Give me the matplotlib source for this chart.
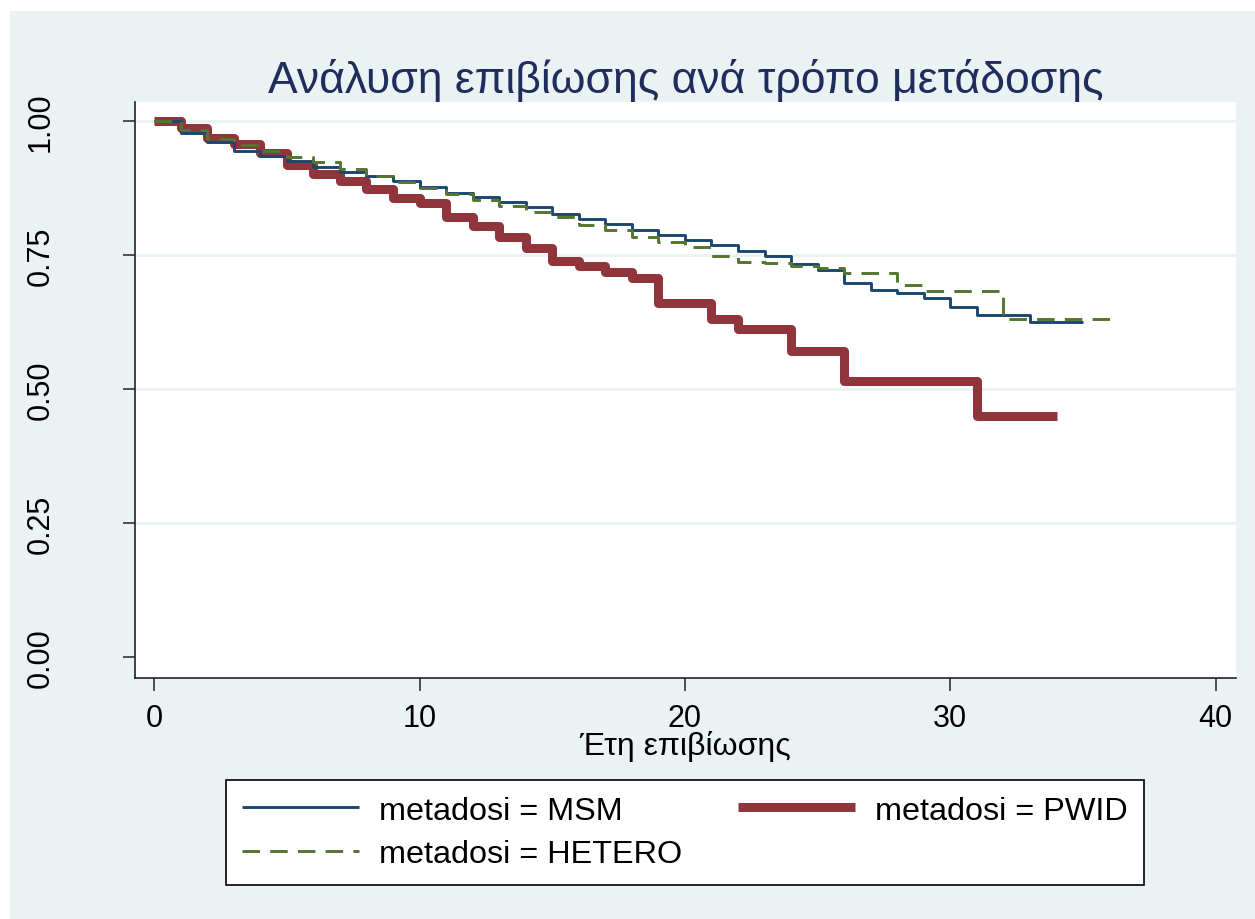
import matplotlib
matplotlib.use("Agg")
import matplotlib.pyplot as plt
from matplotlib.patches import Rectangle

plt.rcParams['font.family'] = ['Liberation Sans', 'DejaVu Sans']

# Kaplan-Meier step values (years, survival)
msm_t = [0, 1, 2, 3, 4, 5, 6, 7, 8, 9, 10, 11, 12, 13, 14, 15, 16, 17, 18,
         19, 20, 21, 22, 23, 24, 25, 26, 27, 28, 29, 30, 31, 33, 35]
msm_s = [1.0, 0.978, 0.960, 0.944, 0.935, 0.925, 0.914, 0.905, 0.897, 0.888,
         0.877, 0.865, 0.858, 0.849, 0.839, 0.826, 0.817, 0.807, 0.796, 0.787,
         0.777, 0.768, 0.757, 0.747, 0.733, 0.722, 0.697, 0.684, 0.678, 0.669,
         0.652, 0.637, 0.624, 0.624]

pwid_t = [0, 1, 2, 3, 4, 5, 6, 7, 8, 9, 10, 11, 12, 13, 14, 15, 16, 17, 18,
          19, 21, 22, 24, 26, 31, 34]
pwid_s = [1.0, 0.987, 0.968, 0.957, 0.940, 0.918, 0.901, 0.888, 0.873, 0.856,
          0.847, 0.820, 0.804, 0.783, 0.763, 0.738, 0.729, 0.718, 0.707, 0.660,
          0.630, 0.611, 0.570, 0.514, 0.449, 0.449]

het_t = [0, 1, 2, 3, 4, 5, 6, 7, 8, 9, 10, 11, 12, 13, 14, 15, 16, 17, 18,
         19, 20, 21, 22, 23, 24, 25, 26, 28, 29, 32, 36]
het_s = [1.0, 0.983, 0.966, 0.955, 0.944, 0.933, 0.923, 0.910, 0.897, 0.886,
         0.875, 0.864, 0.852, 0.841, 0.830, 0.820, 0.806, 0.797, 0.783, 0.774,
         0.765, 0.748, 0.737, 0.735, 0.729, 0.725, 0.716, 0.693, 0.682, 0.630,
         0.630]

yticks = [0.0, 0.25, 0.5, 0.75, 1.0]
xticks = [0, 10, 20, 30, 40]

bg = '#EAF2F3'

fig = plt.figure(figsize=(12.55, 9.2), dpi=100, facecolor='white')
fig.patches.append(Rectangle((0.008, 0), 0.992, 0.987, transform=fig.transFigure,
                             facecolor=bg, edgecolor='none', zorder=-10))

ax = fig.add_axes([0.1076, 0.262, 0.877, 0.626])
ax.set_facecolor('white')

for g in yticks[1:]:
    ax.axhline(g, color=bg, lw=2, zorder=1)

ax.step(msm_t, msm_s, where='post', color='#1A476F', lw=2.1,
        solid_capstyle='butt', label='metadosi = MSM', zorder=3)
ax.step(het_t, het_s, where='post', color='#55752F', lw=2.1,
        dashes=(6, 3.5), label='metadosi = HETERO', zorder=4)
ax.step(pwid_t, pwid_s, where='post', color='#90353B', lw=6.5,
        solid_joinstyle='round', solid_capstyle='butt',
        label='metadosi = PWID', zorder=2)

ax.set_xlim(-0.72, 40.75)
ax.set_ylim(-0.039, 1.035)
ax.set_xticks(xticks)
ax.set_yticks(yticks)
ax.set_yticklabels(['%.2f' % v for v in yticks], rotation=90, va='center')
ax.tick_params(axis='both', length=9, width=1.2, color='#333333',
               labelsize=22, direction='out')
ax.tick_params(axis='y', pad=48)
ax.tick_params(axis='x', pad=9)
for s in ['top', 'right']:
    ax.spines[s].set_visible(False)
for s in ['left', 'bottom']:
    ax.spines[s].set_linewidth(1.2)
    ax.spines[s].set_color('#222222')

ax.set_xlabel('Έτη επιβίωσης', fontsize=23, labelpad=-2)
ax.set_title('Ανάλυση επιβίωσης ανά τρόπο μετάδοσης', fontsize=32,
             color='#1E2D5C', pad=7)

leg = fig.legend(ncol=2, loc='center',
                 bbox_to_anchor=(0.1673, 0.038, 0.757, 0.112),
                 mode='expand', fontsize=23.3, handlelength=3.6,
                 handletextpad=0.62, labelspacing=0.42, borderpad=0.5,
                 fancybox=False, framealpha=1, edgecolor='black')
leg.get_frame().set_linewidth(1.2)

fig.savefig('out.png', dpi=100, facecolor=fig.get_facecolor())
